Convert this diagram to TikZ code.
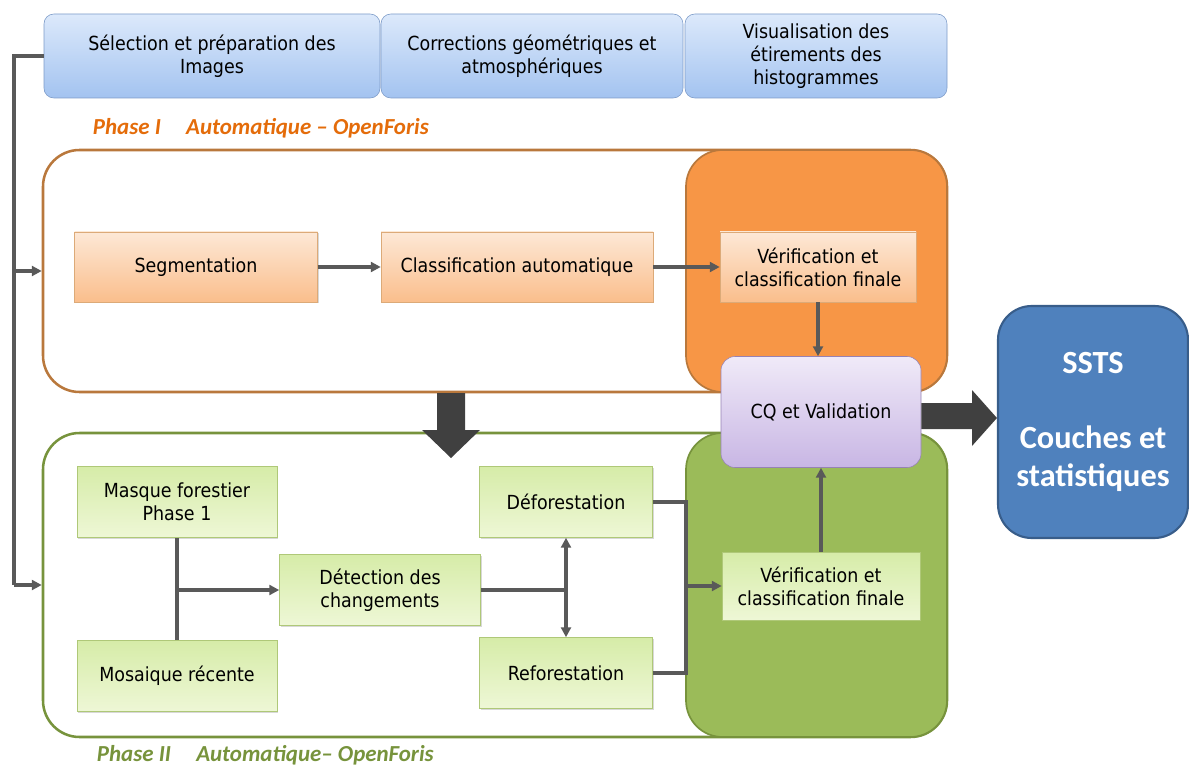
\documentclass[tikz,border=0pt]{standalone}
\usepackage{fontspec}
\setmainfont{DejaVu Sans Condensed}
\newfontfamily\calib{Carlito}
\usetikzlibrary{positioning,arrows.meta,shadows}

\definecolor{bluetop}{RGB}{220,233,251}
\definecolor{bluebot}{RGB}{163,195,240}
\definecolor{blueline}{RGB}{125,155,200}
\definecolor{orgtop}{RGB}{253,232,214}
\definecolor{orgbot}{RGB}{250,190,140}
\definecolor{orgline}{RGB}{220,170,120}
\definecolor{grntop}{RGB}{214,236,168}
\definecolor{grnbot}{RGB}{238,247,214}
\definecolor{grnline}{RGB}{175,200,120}
\definecolor{phaseone}{RGB}{185,120,60}
\definecolor{orgfill}{RGB}{247,150,70}
\definecolor{phasetwo}{RGB}{119,147,60}
\definecolor{grnfill}{RGB}{155,187,89}
\definecolor{cqtop}{RGB}{240,234,248}
\definecolor{cqbot}{RGB}{200,182,228}
\definecolor{cqline}{RGB}{150,130,180}
\definecolor{sstsfill}{RGB}{79,129,189}
\definecolor{sstsline}{RGB}{56,93,138}
\definecolor{lbl}{RGB}{228,108,10}
\definecolor{conn}{RGB}{89,89,89}
\definecolor{bigarr}{RGB}{64,64,64}

\begin{document}
\begin{tikzpicture}[x=0.025cm,y=-0.025cm,>={Triangle[length=7pt,width=7pt]},
  font=\fontsize{13.8}{16.4}\selectfont,
  top node/.style={draw=blueline,rounded corners=7pt,top color=bluetop,bottom color=bluebot,align=center,minimum height=84*0.025cm,inner sep=2pt},
  org node/.style={draw=orgline,top color=orgtop,bottom color=orgbot,align=center,minimum height=70*0.025cm,drop shadow={opacity=0.3,shadow xshift=1pt,shadow yshift=-1pt}},
  grn node/.style={draw=grnline,top color=grntop,bottom color=grnbot,align=center,minimum height=71*0.025cm,drop shadow={opacity=0.3,shadow xshift=1pt,shadow yshift=-1pt}},
  phase box/.style={line width=1.8pt,rounded corners=26pt,minimum width=904*0.025cm},
  side box/.style={line width=1.2pt,rounded corners=26pt,minimum width=261*0.025cm},
  link/.style={draw=conn,line width=2.4pt},
  phase label/.style={font=\calib\fontsize{16.3}{19}\selectfont\bfseries\itshape,anchor=west}]

  \useasboundingbox (0,0) rectangle (1189,767);

  % top row
  \node[top node,minimum width=336*0.025cm] (sel) at (212,56) {S\'election et pr\'eparation des\\Images};
  \node[top node,minimum width=302*0.025cm] (corr) at (532,56) {Corrections g\'eom\'etriques et\\atmosph\'eriques};
  \node[top node,minimum width=262*0.025cm] (visu) at (816,56) {Visualisation des\\\'etirements des\\histogrammes};

  \node[phase label,text=lbl] (l1) at (88,128) {Phase I\hspace{1.1em}Automatique – OpenForis};

  % phase I
  \node[phase box,draw=phaseone,fill=white,minimum height=242*0.025cm] (p1) at (495,271) {};
  \node[side box,draw=phaseone,fill=orgfill,minimum height=242*0.025cm] (p1v) at (816.5,271) {};
  \node[org node,minimum width=243*0.025cm] (seg) at (196,267) {Segmentation};
  \node[org node,minimum width=272*0.025cm] (cla) at (517,267) {Classification automatique};
  \node[org node,minimum width=196*0.025cm] (ver1) at (818,267) {V\'erification et\\classification finale};

  % phase II
  \node[phase box,draw=phasetwo,fill=white,minimum height=304*0.025cm] (p2) at (495,585) {};
  \node[side box,draw=phasetwo,fill=grnfill,minimum height=304*0.025cm] (p2v) at (816.5,585) {};
  \node[grn node,minimum width=200*0.025cm] (masq) at (177,502) {Masque forestier\\Phase 1};
  \node[grn node,minimum width=200*0.025cm] (mosa) at (177,676) {Mosaique r\'ecente};
  \node[grn node,minimum width=201*0.025cm] (det) at (380,590) {D\'etection des\\changements};
  \node[grn node,minimum width=173*0.025cm] (defo) at (566,502) {D\'eforestation};
  \node[grn node,minimum width=173*0.025cm] (refo) at (566,673) {Reforestation};
  \node[grn node,minimum width=198*0.025cm,minimum height=68*0.025cm] (ver2) at (821,586) {V\'erification et\\classification finale};

  \node[phase label,text=phasetwo] (l2) at (92,755) {Phase II\hspace{1.1em}Automatique– OpenForis};

  % validation and output
  \node[draw=cqline,rounded corners=10pt,top color=cqtop,bottom color=cqbot,minimum width=200*0.025cm,minimum height=111*0.025cm] (cq) at (821,412) {CQ et Validation};
  \node[draw=sstsline,line width=1.5pt,fill=sstsfill,rounded corners=24pt,minimum width=190*0.025cm,minimum height=232*0.025cm,text=white,align=center,font=\calib\fontsize{23}{27}\selectfont\bfseries] (ssts) at (1093,422) {SSTS\\[26pt]Couches et\\statistiques};

  % connectors
  \coordinate (bus) at (14,56);
  \draw[link] (sel.west) -- (bus) -- (bus |- p2.west);
  \draw[link,->] (bus |- p1.west) -- (p1.west);
  \draw[link,->] (bus |- p2.west) -- (p2.west);
  \draw[link,->] (seg) -- (cla);
  \draw[link,->] (cla) -- (ver1);
  \draw[link,->] (ver1) -- (ver1 |- cq.north);
  \draw[link,->] (ver2.north) -- (ver2.north |- cq.south);
  \draw[link] (masq.south) -- (mosa.north);
  \draw[link,->] (masq.south |- det.west) -- (det.west);
  \draw[link] (det.east) -- (defo.south |- det.east);
  \draw[link,<->] (defo.south) -- (refo.north);
  \coordinate (jn) at (686,0);
  \draw[link] (defo.east) -- (jn |- defo.east) -- (jn |- refo.east) -- (refo.east);
  \draw[link,->] (jn |- ver2.west) -- (ver2.west);

  % big arrows
  \fill[bigarr] (437,393) -- (465,393) -- (465,430) -- (480,430) -- (451,458) -- (422,430) -- (437,430) -- cycle;
  \fill[bigarr] (cq.east |- 0,403) -- (972,403) -- (972,390) -- (ssts.west |- 0,418) -- (972,446) -- (972,429) -- (cq.east |- 0,429) -- cycle;
\end{tikzpicture}
\end{document}
